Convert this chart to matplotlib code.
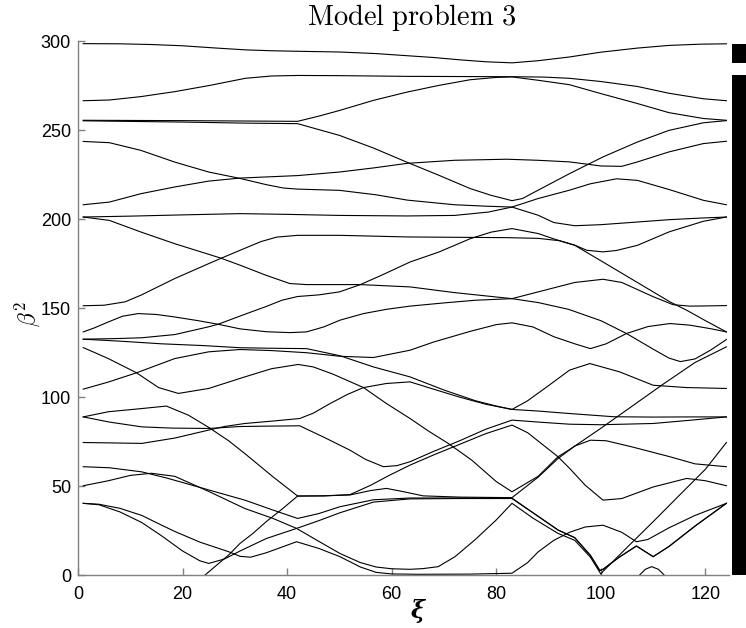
import matplotlib
matplotlib.use("Agg")
import matplotlib.pyplot as plt

plt.rcParams['mathtext.fontset'] = 'cm'

# ------------------------------
# band data (xi, beta^2)
# ------------------------------
xi_A = [1, 8, 14, 20, 26, 32, 37, 42, 50, 57, 63, 68, 73, 78, 83, 88, 94, 100, 107, 113, 119, 124]
b2_A = [298.8, 298.7, 298.3, 297.6, 296.4, 295.3, 294.8, 294.5, 294.1, 293.2, 292.0, 291.0, 289.7, 288.6,
        288.0, 289.2, 291.3, 294.0, 296.3, 297.8, 298.5, 298.7]

xi_B = [1, 6, 12, 18.5, 25, 32, 37, 42, 50, 63, 73, 83, 89, 94, 100, 107, 113, 119.6, 124]
b2_B = [266.7, 267.1, 269.0, 271.8, 275.2, 279.3, 280.6, 280.9, 280.8, 280.4, 280.3, 280.2, 280.0, 279.3,
        277.5, 274.7, 270.9, 267.8, 266.7]

xi_C1 = [1, 20, 42, 46, 50, 56.5, 63, 69, 75, 80, 83, 88, 94, 100, 107, 113, 119.6, 124]
b2_C1 = [255.7, 255.5, 255.1, 258.0, 261.2, 266.9, 271.6, 275.3, 278.5, 279.8, 280.1, 278.2, 275.7, 270.7,
         265.1, 260.0, 256.7, 255.7]

xi_C2 = [1, 20, 32, 42, 50, 56.5, 63, 69, 75, 79, 83, 85, 88, 94, 100.4, 107, 113, 119.6, 124]
b2_C2 = [255.4, 254.7, 254.1, 253.8, 247.2, 240.1, 232.0, 224.8, 217.3, 213.5, 210.5, 211.7, 216.4, 225.7,
         235.1, 243.5, 250.0, 254.3, 255.5]

xi_D = [1, 6, 12, 18.5, 25, 31, 36, 39.3, 42, 50, 57, 63, 72, 78, 83, 88, 91, 95, 100, 107, 113, 119, 124]
b2_D = [243.8, 243.1, 238.8, 232.2, 226.6, 223.0, 219.5, 217.6, 217.0, 216.3, 213.8, 210.8, 208.2, 207.4,
        206.9, 202.3, 198.2, 196.4, 197.0, 198.5, 199.8, 200.7, 201.3]

xi_E = [1, 6, 12, 18.5, 25, 31, 42, 50, 56.5, 63, 72, 82, 88, 94, 100, 104, 107, 113, 119.6, 124]
b2_E = [208.2, 209.7, 214.4, 218.2, 221.5, 223.2, 224.6, 226.6, 228.9, 231.5, 233.2, 233.8, 233.2, 232.3,
        230.0, 229.8, 232.3, 237.9, 242.6, 243.9]

xi_F = [1, 10, 20, 31, 40, 50, 63, 72, 78.5, 83, 88, 94, 98, 103, 107, 113, 119.6, 124]
b2_F = [201.3, 201.8, 202.5, 203.2, 202.8, 202.2, 201.9, 202.2, 204.1, 206.9, 211.7, 216.4, 220.0, 222.8,
        221.9, 216.8, 210.7, 208.2]

xi_G = [1, 6, 12, 18.5, 27.2, 31, 36, 40.5, 43.7, 54, 63.5, 72, 83, 88, 95, 100.4, 104, 107, 110, 113.8,
        117, 120, 124]
b2_G = [201.3, 199.4, 192.9, 186.3, 178.3, 174.2, 168.5, 163.9, 163.3, 163.3, 162.0, 158.8, 155.4, 159.2,
        164.5, 166.3, 164.5, 160.5, 156.5, 152.0, 151.2, 151.3, 151.5]

xi_H2 = [1, 5, 9, 12, 18.5, 25, 27.2, 31, 35, 38, 42, 50, 63, 72, 82, 88, 92, 95, 97.3, 100.4, 103, 107,
         113, 119.6, 124]
b2_H2 = [151.4, 151.7, 153.6, 157.3, 166.7, 175.1, 177.9, 182.6, 187.5, 190.0, 191.0, 191.0, 190.1, 189.9,
         189.7, 189.3, 188.0, 185.5, 182.6, 181.7, 182.5, 185.4, 192.9, 198.9, 201.3]

xi_I = [1, 8, 12.2, 18.5, 24.9, 26.8, 31.9, 36, 39, 42, 46, 50, 54, 58, 63.5, 69, 75, 79, 83, 88, 91, 95,
        100.4, 106.8, 113.2, 116.4, 120, 124]
b2_I = [132.6, 133.0, 133.4, 135.2, 139.5, 141.0, 146.6, 151.0, 154.5, 156.6, 157.5, 159.2, 163.3, 168.5,
        176.0, 181.6, 189.1, 192.8, 194.8, 192.0, 189.0, 185.4, 176.0, 164.8, 153.6, 148.9, 143.0, 136.7]

xi_H = [1, 3, 5.8, 8.5, 11.5, 15, 18.5, 23, 26.8, 31, 36, 40.5, 43.7, 47, 50.1, 54.6, 59, 63.5, 70, 76, 83,
        88, 93.8, 100, 104.9, 110, 113, 115.2, 118, 121, 124]
b2_H = [136.7, 138.8, 142.3, 145.5, 147.0, 146.5, 145.1, 143.0, 141.0, 138.4, 136.8, 136.3, 136.7, 139.5,
        143.3, 147.0, 149.4, 151.2, 153.0, 154.5, 155.4, 153.2, 149.4, 143.0, 135.8, 127.0, 122.0, 120.0,
        121.5, 126.5, 132.4]

xi_L2 = [1, 8, 16, 24, 31, 37, 43.7, 50.1, 56.5, 63.5, 70, 76, 80, 83, 86, 90, 94, 97.9, 103.6, 110, 116.4, 124]
b2_L2 = [132.6, 131.5, 130.0, 129.0, 127.8, 127.5, 127.3, 123.3, 117.0, 111.4, 104.0, 98.0, 95.0, 93.1,
         98.0, 106.5, 115.2, 118.9, 114.2, 106.7, 105.4, 104.9]

xi_L3 = [1, 5.8, 11.2, 15.4, 19.2, 25, 31.9, 37, 42.1, 45, 48.8, 54.6, 59, 63.5, 67, 70.8, 75.3, 80, 83, 88,
         91.8, 94, 100, 106, 112, 118, 124]
b2_L3 = [127.9, 121.7, 113.7, 105.4, 102.1, 104.9, 111.4, 116.0, 118.4, 117.0, 112.9, 105.4, 96.4, 88.0,
         81.0, 74.0, 64.6, 52.5, 46.8, 55.5, 66.5, 70.5, 82.5, 95.0, 107.5, 119.5, 128.3]

xi_L4 = [1, 5.8, 11.2, 18.5, 25, 31, 37, 43.7, 50.1, 56.5, 63.5, 68, 75, 80, 83, 87, 91, 95, 98, 101, 104.9,
         109, 113.2, 117, 121, 124]
b2_L4 = [104.5, 108.5, 113.7, 121.7, 125.5, 126.8, 126.2, 125.0, 123.0, 122.3, 126.4, 131.0, 137.0, 140.8,
         141.8, 139.5, 134.0, 130.0, 127.3, 130.0, 135.8, 139.7, 141.4, 140.5, 138.5, 136.7]

xi_L5 = [1, 5.8, 12.2, 16.9, 21.1, 25, 28.8, 31.9, 37.3, 42, 47, 52, 56, 59.5, 63.5, 68, 73, 78, 83, 86, 89,
         91.8, 94, 97, 100.4, 104, 110, 116.4, 120, 124]
b2_L5 = [88.9, 91.8, 93.6, 95.0, 89.9, 83.0, 75.5, 68.3, 55.2, 44.4, 44.5, 45.2, 50.5, 56.0, 61.8, 67.5,
         73.5, 79.5, 84.3, 80.0, 73.0, 66.5, 60.0, 50.5, 42.1, 43.0, 49.5, 54.3, 53.0, 50.2]

xi_L6 = [1, 6, 12.2, 18, 25, 31, 36, 42.4, 47, 52, 55, 58.4, 61, 63.5, 68, 73, 78, 83, 88, 94, 100, 110,
         117, 124]
b2_L6 = [88.9, 86.0, 83.3, 82.6, 82.4, 83.5, 83.7, 83.9, 77.5, 70.2, 65.0, 60.9, 61.5, 63.7, 69.5, 75.5,
         82.0, 87.1, 86.0, 84.8, 84.5, 85.2, 87.0, 88.9]

xi_L7 = [1, 5.8, 12.2, 18.5, 25, 28, 31.9, 37, 42.4, 45, 48.2, 51.5, 54.6, 59, 63.5, 68, 73, 78, 83, 88, 94,
         102.4, 110, 117, 124]
b2_L7 = [74.5, 74.3, 74.0, 77.0, 81.5, 83.5, 85.2, 86.5, 88.0, 91.0, 96.4, 101.5, 105.4, 107.7, 108.6,
         104.5, 100.0, 96.0, 93.1, 92.2, 90.8, 89.0, 88.8, 88.9, 88.9]

xi_L8 = [1, 6, 12.2, 17, 21.7, 26, 31.9, 37.3, 42, 46, 50.1, 56.5, 63.5, 73, 83, 88, 91.8, 95, 98, 99.8,
         100.4, 103.5, 106.8, 110, 113, 118, 124]
b2_L8 = [60.9, 60.3, 58.0, 54.5, 50.6, 47.0, 42.1, 36.5, 31.8, 34.5, 38.4, 42.3, 43.3, 43.3, 43.2, 33.0,
         25.3, 21.0, 11.0, 2.5, 3.2, 10.0, 16.3, 10.3, 16.0, 27.5, 40.3]

xi_L9 = [1, 5.8, 10, 14, 18.5, 25, 31.9, 37.3, 41.8, 46, 50.1, 54, 57, 60, 63.5, 66, 68.9, 72.1, 76, 80, 83,
         87, 91.8, 95, 98, 100, 100.4, 105, 110, 115, 120, 124]
b2_L9 = [50.2, 53.0, 56.0, 57.2, 55.5, 47.0, 37.4, 31.8, 26.2, 19.0, 12.1, 7.0, 4.5, 3.5, 3.2, 3.6, 4.7,
         10.3, 20.0, 31.0, 40.3, 32.0, 23.4, 19.5, 10.0, 0.5, 2.0, 15.5, 30.0, 44.8, 59.5, 74.5]

xi_L10 = [1, 4, 8, 12.2, 16, 20, 23.3, 25, 28, 31, 36, 41.8, 46, 50.1, 56.5, 63.5, 73, 83, 88, 91.8, 95, 98,
          99.8, 100.4, 103.5, 106.8, 110, 113, 118, 124]
b2_L10 = [40.3, 39.5, 35.5, 29.5, 22.0, 13.5, 8.0, 6.5, 9.0, 13.5, 20.5, 26.2, 30.5, 35.0, 41.0, 42.8, 43.0,
          43.0, 33.0, 25.3, 21.0, 11.0, 2.5, 3.2, 10.0, 16.3, 10.3, 16.0, 27.5, 40.3]

xi_L11 = [1, 4, 8, 12.2, 16, 18.5, 23.3, 28.8, 31, 33, 36, 41.8, 46, 50.1, 54, 57, 60, 65, 75, 83, 86, 88,
          91, 94, 97, 100.4, 104, 106.8, 109, 113, 118, 124]
b2_L11 = [40.3, 39.8, 37.5, 33.5, 28.0, 24.5, 18.5, 13.1, 10.5, 10.0, 12.5, 18.7, 15.0, 10.3, 4.5, 1.5, 0.6,
          0.4, 0.5, 1.0, 7.0, 13.0, 19.5, 24.0, 27.0, 28.0, 24.0, 18.7, 20.0, 26.5, 33.5, 40.3]

xi_L13 = [23.5, 24.3, 26.5, 28.8, 31, 33.5, 36, 39, 42, 47, 52, 56, 59, 62, 66, 73, 83, 88, 91.8, 95, 98, 101,
          106, 113.2, 118, 124]
b2_L13 = [-2.0, 0.0, 5.5, 11.2, 17.8, 23.5, 30.0, 37.0, 44.4, 44.5, 45.0, 47.5, 48.7, 47.0, 44.5, 43.8, 43.5,
          55.0, 65.5, 72.5, 75.8, 75.5, 72.0, 66.5, 62.5, 60.9]

xi_bump = [106.8, 107.5, 108.5, 109.7, 111, 112, 112.7]
b2_bump = [-2.0, 0.3, 3.2, 4.7, 3.2, 0.3, -2.0]

bands = [
    (xi_A, b2_A), (xi_B, b2_B), (xi_C1, b2_C1), (xi_C2, b2_C2), (xi_D, b2_D), (xi_E, b2_E),
    (xi_F, b2_F), (xi_G, b2_G), (xi_H2, b2_H2), (xi_I, b2_I), (xi_H, b2_H), (xi_L2, b2_L2),
    (xi_L3, b2_L3), (xi_L4, b2_L4), (xi_L5, b2_L5), (xi_L6, b2_L6), (xi_L7, b2_L7), (xi_L8, b2_L8),
    (xi_L9, b2_L9), (xi_L10, b2_L10), (xi_L11, b2_L11), (xi_L13, b2_L13), (xi_bump, b2_bump),
]


# ------------------------------
# pass bands = union of band ranges (black bars on the right)
# ------------------------------
def pass_bands(bands):
    spans = sorted((max(min(y), 0.0), max(y)) for _, y in bands)
    merged = [list(spans[0])]
    for lo, hi in spans[1:]:
        if lo <= merged[-1][1]:
            merged[-1][1] = max(merged[-1][1], hi)
        else:
            merged.append([lo, hi])
    return merged


fig = plt.figure(figsize=(7.46, 6.28), dpi=100)
ax = fig.add_axes([78 / 746, 53 / 628, 651 / 746, 533.5 / 628])

for x, y in bands:
    ax.plot(x, y, color='k', lw=0.8)

ax.set_xlim(0, 124.5)
ax.set_ylim(0, 300)
ax.set_xticks([0, 20, 40, 60, 80, 100, 120])
ax.set_yticks([0, 50, 100, 150, 200, 250, 300])
for s in ['top', 'right']:
    ax.spines[s].set_visible(False)
for s in ['left', 'bottom']:
    ax.spines[s].set_color('#808080')
    ax.spines[s].set_linewidth(1.0)
ax.tick_params(direction='in', length=5, width=1.0, color='#808080', labelsize=13)
ax.tick_params(axis='x', pad=8)
ax.tick_params(axis='y', pad=5)
for lab in ax.get_xticklabels() + ax.get_yticklabels():
    lab.set_fontfamily('Liberation Sans')

fig.text(412 / 746, 1 - 25 / 628, r'$\mathrm{Model\ problem\ 3}$', ha='center', va='baseline', fontsize=20.5)
fig.text(418 / 746, 1 - 611 / 628, 'ξ', ha='center', va='center', fontsize=17,
         family='DejaVu Serif', weight='bold', style='italic')
fig.text(27 / 746, 1 - 314 / 628, r'$\beta^2$', ha='center', va='center', fontsize=17, rotation=90)

# bars of the pass bands
bar_ax = fig.add_axes([731.5 / 746, 53 / 628, 20 / 746, 533.5 / 628])
for lo, hi in pass_bands(bands):
    bar_ax.bar(0, hi - lo, bottom=lo, width=1.0, color='k')
bar_ax.set_xlim(-0.5, 0.5)
bar_ax.set_ylim(0, 300)
bar_ax.axis('off')

fig.savefig('out.png', dpi=100)
